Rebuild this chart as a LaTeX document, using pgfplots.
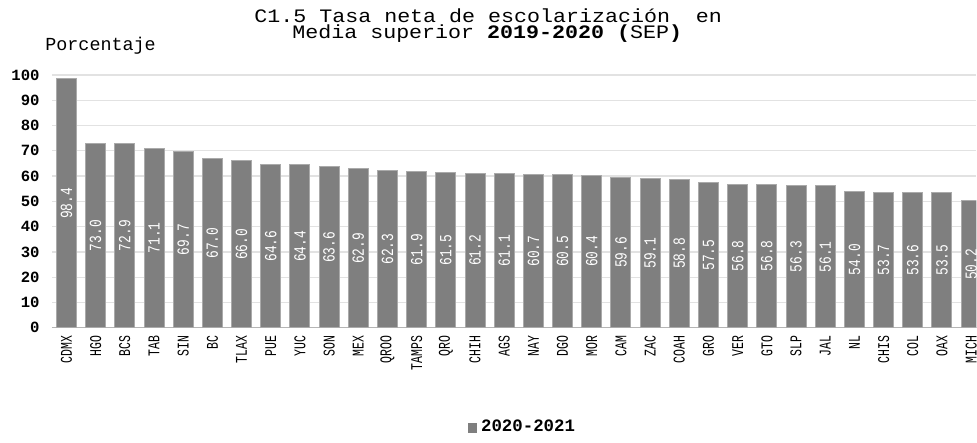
\documentclass[border=0pt]{standalone}
\usepackage{fontspec}
\setmainfont{Liberation Mono}
\usepackage{pgfplots}
\pgfplotsset{compat=1.18}
\usepackage{pgfplotstable}

\definecolor{barfill}{RGB}{127,127,127}
\definecolor{baredge}{RGB}{170,170,170}
\definecolor{gridc}{RGB}{226,226,226}

% tasa neta por entidad, 2020-2021
\pgfplotstableread{
i v
0 98.4
1 73.0
2 72.9
3 71.1
4 69.7
5 67.0
6 66.0
7 64.6
8 64.4
9 63.6
10 62.9
11 62.3
12 61.9
13 61.5
14 61.2
15 61.1
16 60.7
17 60.5
18 60.4
19 59.6
20 59.1
21 58.8
22 57.5
23 56.8
24 56.8
25 56.3
26 56.1
27 54.0
28 53.7
29 53.6
30 53.5
31 50.2
}\tasa

\begin{document}
\begin{tikzpicture}
\path (-25.95pt,-54pt) rectangle (462.55pt,164pt);
\begin{axis}[
    scale only axis,
    width=462.55pt, height=126.5pt,
    xmin=-0.5, xmax=31.18,
    ymin=0, ymax=100,
    ytick={0,10,...,100},
    xtick={0,...,31},
    xticklabels={CDMX,HGO,BCS,TAB,SIN,BC,TLAX,PUE,YUC,SON,MEX,QROO,TAMPS,QRO,CHIH,AGS,NAY,DGO,MOR,CAM,ZAC,COAH,GRO,VER,GTO,SLP,JAL,NL,CHIS,COL,OAX,MICH},
    axis x line*=bottom,
    axis y line*=left,
    y axis line style={draw=none},
    x axis line style={draw=gridc!80!black, line width=0.6pt},
    major tick length=0pt,
    ymajorgrids,
    grid style={gridc, line width=0.6pt},
    /pgf/number format/assume math mode=true,
    yticklabel style={font=\fontsize{7.8}{8}\selectfont\bfseries, anchor=east, inner sep=0pt, xshift=-6pt},
    xticklabel style={font=\fontsize{8.2}{8}\selectfont, yshift=-4pt, rotate=90, xscale=0.7, anchor=east, inner sep=0pt},
    legend style={at={(0.51,-0.395)}, anchor=center, draw=none, fill=none,
        font=\fontsize{8.7}{9}\selectfont\bfseries},
    legend image code/.code={\fill[barfill] (0pt,-2.2pt) rectangle (4.2pt,2.2pt);},
]
\addplot[ybar, bar width=10pt, fill=barfill, draw=baredge, line width=0.5pt]
    table[x=i, y=v] {\tasa};
\addlegendentry{2020-2021}

% etiquetas de valor al centro de cada barra
\addplot[only marks, mark=none, forget plot,
    point meta=explicit,
    nodes near coords={\pgfmathprintnumber[fixed, fixed zerofill, precision=1, assume math mode=true]{\pgfplotspointmeta}},
    every node near coord/.append style={white, rotate=90, xscale=0.76, anchor=center, inner sep=0pt,
        font=\fontsize{8.5}{9}\selectfont}]
    table[x=i, y expr=\thisrow{v}/2, meta=v] {\tasa};
\end{axis}

\node[anchor=base, inner sep=0pt, xscale=1.14, font=\fontsize{9.5}{9}\selectfont] at (218.3pt,152.8pt)
    {C1.5 Tasa neta de escolarización\ \ en};
\node[anchor=base, inner sep=0pt, xscale=1.14, font=\fontsize{9.5}{9}\selectfont] at (217.8pt,144.5pt)
    {Media superior \textbf{2019-2020 (}SEP\textbf{)}};
\node[anchor=base west, inner sep=0pt, font=\fontsize{9.2}{10}\selectfont] at (-3.45pt,138.5pt)
    {Porcentaje};
\end{tikzpicture}
\end{document}
